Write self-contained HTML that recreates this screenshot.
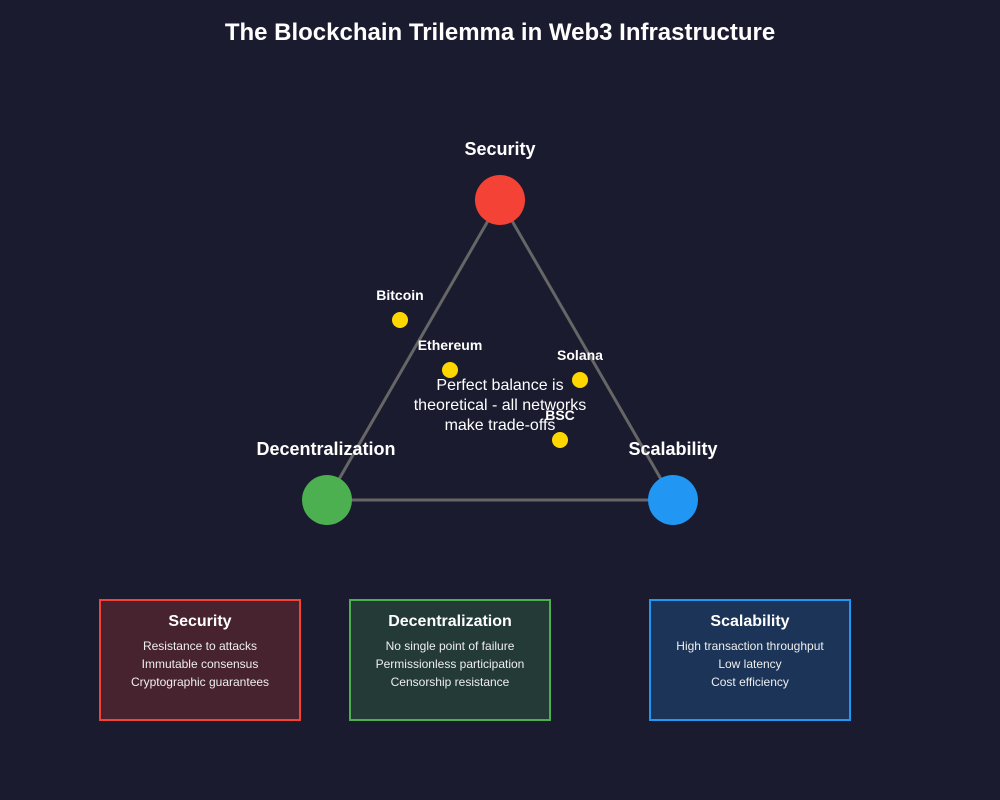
<!DOCTYPE html>
<html><head><style>body{margin:0;background:#1a1b2e}svg{display:block}</style></head><body>
<svg width="1000" height="800" xmlns="http://www.w3.org/2000/svg" font-family="Liberation Sans, sans-serif">
<rect width="1000" height="800" fill="#1a1b2e"/>
<text x="500" y="40" text-anchor="middle" fill="#fff" font-size="24" font-weight="bold">The Blockchain Trilemma in Web3 Infrastructure</text>
<polygon points="500,200 327,500 673,500" fill="none" stroke="#666" stroke-width="3"/>
<circle cx="500" cy="200" r="25" fill="#f44336"/>
<circle cx="327" cy="500" r="25" fill="#4caf50"/>
<circle cx="673" cy="500" r="25" fill="#2196f3"/>
<g fill="#fff" font-size="18" font-weight="bold" text-anchor="middle">
<text x="500" y="155">Security</text>
<text x="326" y="455">Decentralization</text>
<text x="673" y="455">Scalability</text>
</g>
<g fill="#ffd700"><circle cx="400" cy="320" r="8"/><circle cx="450" cy="370" r="8"/><circle cx="580" cy="380" r="8"/><circle cx="560" cy="440" r="8"/></g>
<g fill="#fff" font-size="14" font-weight="bold" text-anchor="middle">
<text x="400" y="300">Bitcoin</text>
<text x="450" y="350">Ethereum</text>
<text x="580" y="360">Solana</text>
<text x="560" y="420">BSC</text>
</g>
<g fill="#fff" font-size="16" text-anchor="middle">
<text x="500" y="390">Perfect balance is</text>
<text x="500" y="410">theoretical - all networks</text>
<text x="500" y="430">make trade-offs</text>
</g>
<rect x="100" y="600" width="200" height="120" fill="#472330" stroke="#f44336" stroke-width="2"/>
<rect x="350" y="600" width="200" height="120" fill="#243a37" stroke="#4caf50" stroke-width="2"/>
<rect x="650" y="600" width="200" height="120" fill="#1c3457" stroke="#2196f3" stroke-width="2"/>
<g fill="#fff" font-size="16" font-weight="bold" text-anchor="middle">
<text x="200" y="626">Security</text>
<text x="450" y="626">Decentralization</text>
<text x="750" y="626">Scalability</text>
</g>
<g fill="#eee" font-size="12" text-anchor="middle">
<text x="200" y="650">Resistance to attacks</text>
<text x="200" y="668">Immutable consensus</text>
<text x="200" y="686">Cryptographic guarantees</text>
<text x="450" y="650">No single point of failure</text>
<text x="450" y="668">Permissionless participation</text>
<text x="450" y="686">Censorship resistance</text>
<text x="750" y="650">High transaction throughput</text>
<text x="750" y="668">Low latency</text>
<text x="750" y="686">Cost efficiency</text>
</g>
</svg>
</body></html>
